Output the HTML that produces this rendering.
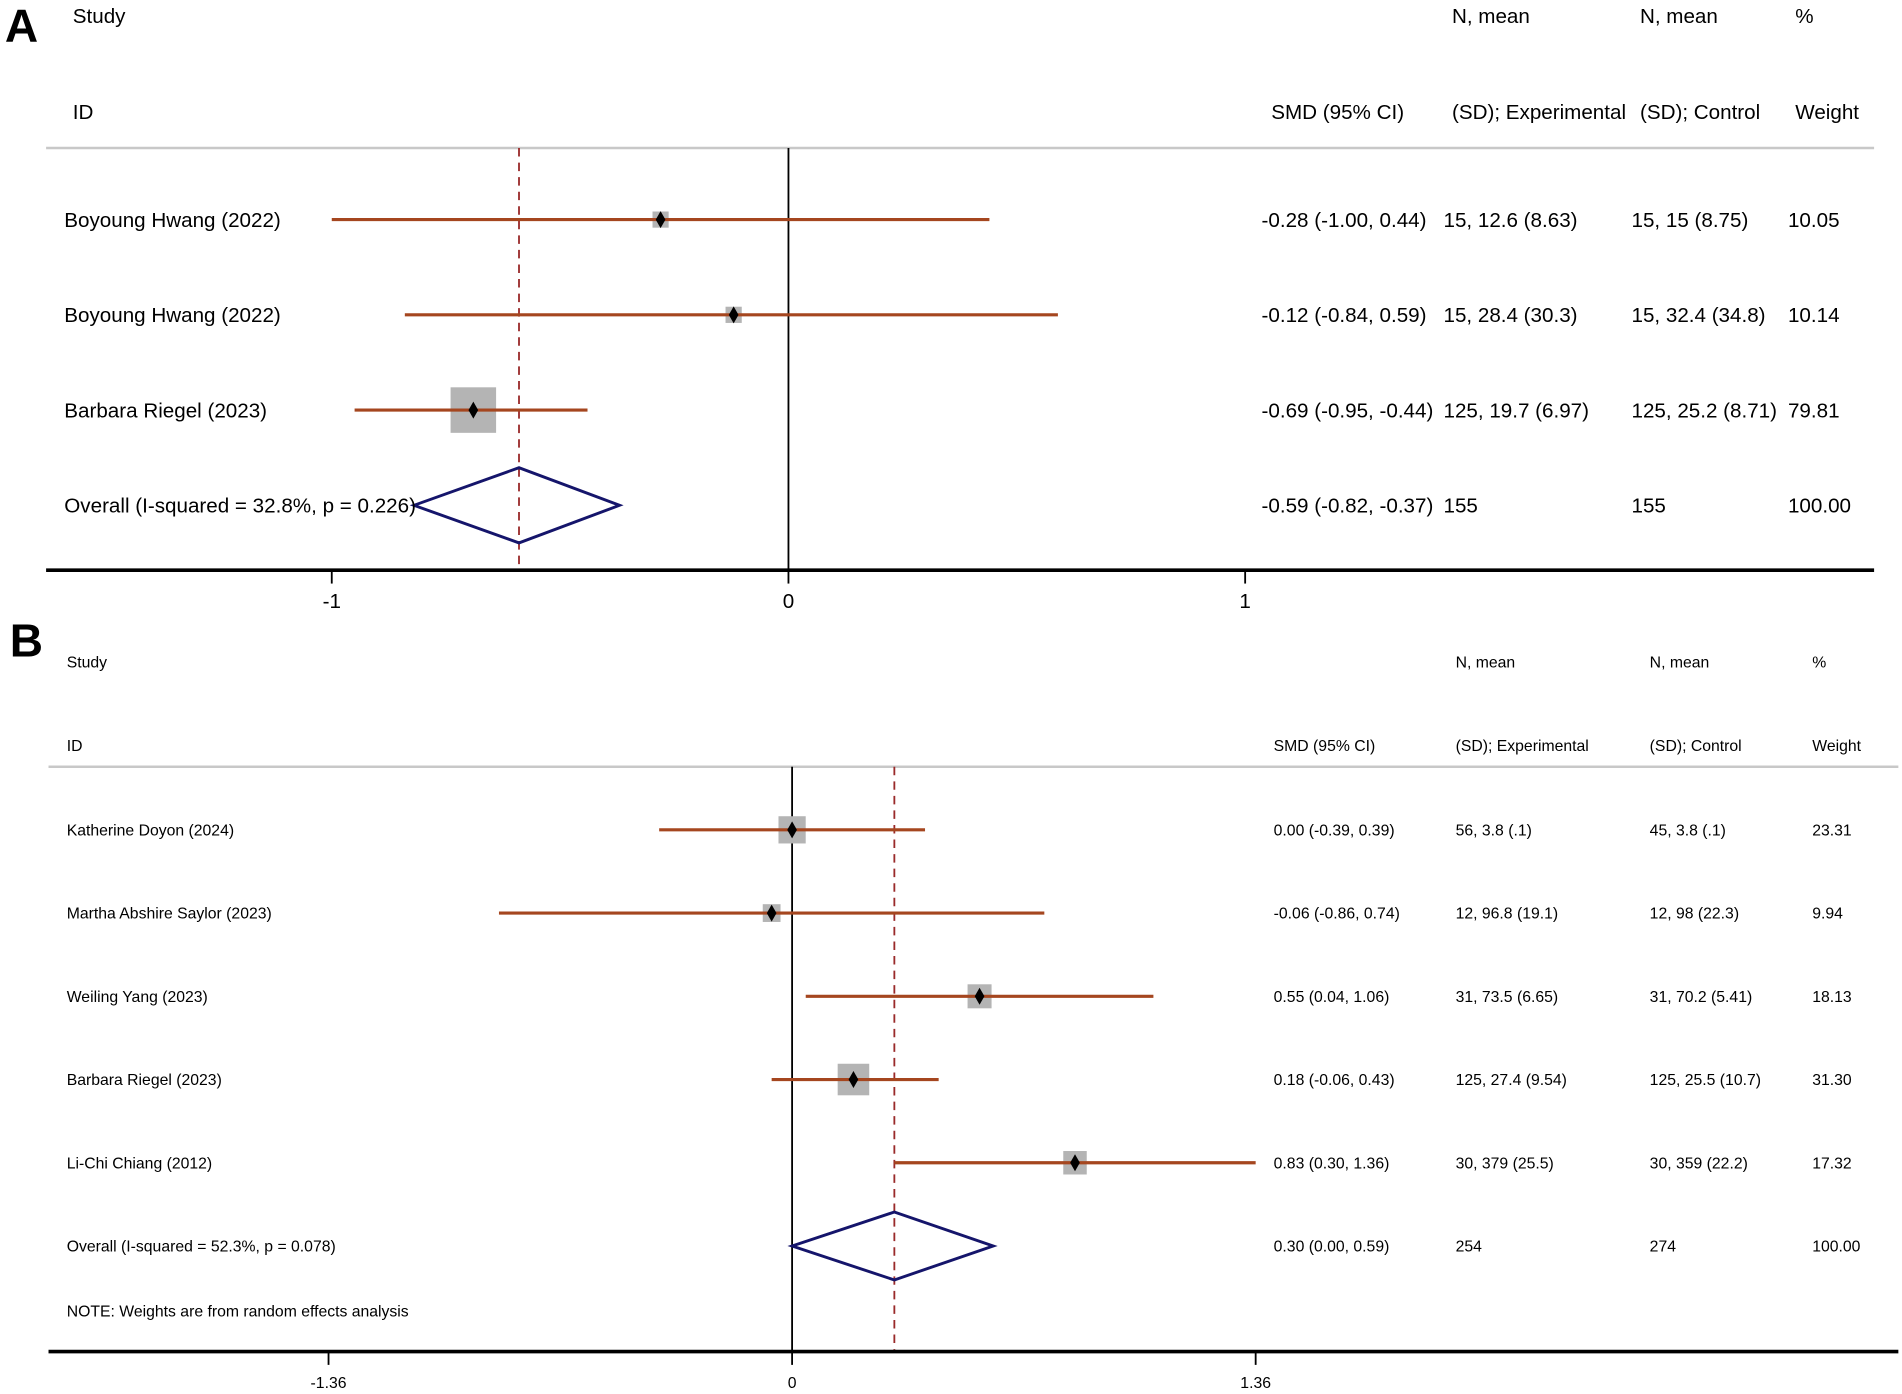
<!DOCTYPE html>
<html><head><meta charset="utf-8"><style>
html,body{margin:0;padding:0;background:#fff;}
svg{display:block;font-family:"Liberation Sans",Arial,sans-serif;}
</style></head><body>
<svg id="fig" width="1902" height="1394" viewBox="0 0 1568 1149" preserveAspectRatio="none" xmlns="http://www.w3.org/2000/svg">
<g id="pA"></g>
<g id="pB"></g>
</svg>
<script>
// Panel A data
const aStudies = ["Boyoung Hwang (2022)", "Boyoung Hwang (2022)", "Barbara Riegel (2023)"];
const aEst = [-0.28, -0.12, -0.69];
const aLo = [-1.00, -0.84, -0.95];
const aHi = [0.44, 0.59, -0.44];
const aWeight = [10.05, 10.14, 79.81];
const aExp = ["15, 12.6 (8.63)", "15, 28.4 (30.3)", "125, 19.7 (6.97)"];
const aCtl = ["15, 15 (8.75)", "15, 32.4 (34.8)", "125, 25.2 (8.71)"];
const aOverall = [-0.59, -0.82, -0.37];
const aOverallText = ["Overall  (I-squared = 32.8%, p = 0.226)", "155", "155", "100.00"];
const aTicks = [-1, 0, 1];
const aTickLabels = ["-1", "0", "1"];
// Panel B data
const bStudies = ["Katherine Doyon (2024)", "Martha Abshire Saylor (2023)", "Weiling Yang (2023)", "Barbara Riegel (2023)", "Li-Chi Chiang (2012)"];
const bEst = [0.00, -0.06, 0.55, 0.18, 0.83];
const bLo = [-0.39, -0.86, 0.04, -0.06, 0.30];
const bHi = [0.39, 0.74, 1.06, 0.43, 1.36];
const bWeight = [23.31, 9.94, 18.13, 31.30, 17.32];
const bExp = ["56, 3.8 (.1)", "12, 96.8 (19.1)", "31, 73.5 (6.65)", "125, 27.4 (9.54)", "30, 379 (25.5)"];
const bCtl = ["45, 3.8 (.1)", "12, 98 (22.3)", "31, 70.2 (5.41)", "125, 25.5 (10.7)", "30, 359 (22.2)"];
const bOverall = [0.30, 0.00, 0.59];
const bOverallText = ["Overall  (I-squared = 52.3%, p = 0.078)", "254", "274", "100.00"];
const bTicks = [-1.36, 0, 1.36];
const bTickLabels = ["-1.36", "0", "1.36"];

const NS = "http://www.w3.org/2000/svg";
function mk(parent, tag, attrs, text) {
  const e = document.createElementNS(NS, tag);
  for (const k in attrs) e.setAttribute(k, attrs[k]);
  if (text !== undefined) e.textContent = text;
  parent.appendChild(e);
  return e;
}
function fmt(v){ return v.toFixed(2); }

function panel(g, cfg, studies, est, lo, hi, wt, exp, ctl, ov, ovText, ticks, tickLabels) {
  const x = v => cfg.x0 + v * cfg.scale;
  let t;
  t = mk(g, "text", {x: cfg.letterX, y: cfg.letterY, "font-size": cfg.letterSize, "font-weight": "bold", fill: "#000"}, cfg.letter);
  
  
  const fs = cfg.fs;
  const heads = [["Study", cfg.cId, cfg.h1], ["N, mean", cfg.cExp, cfg.h1], ["N, mean", cfg.cCtl, cfg.h1], ["%", cfg.cW, cfg.h1],
    ["ID", cfg.cId, cfg.h2], ["SMD (95% CI)", cfg.cSmdH, cfg.h2], ["(SD); Experimental", cfg.cExp, cfg.h2], ["(SD); Control", cfg.cCtl, cfg.h2], ["Weight", cfg.cW, cfg.h2]];
  heads.forEach(h => {
    t = mk(g, "text", {x: h[1], y: h[2], "font-size": fs, fill: "#000"}, h[0]);
    
    
  });
  let l = mk(g, "line", {x1: cfg.left, x2: cfg.right, y1: cfg.top, y2: cfg.top, stroke: "#c8c8c8", "stroke-width": 2});
  
  
  l = mk(g, "line", {x1: x(0), x2: x(0), y1: cfg.top, y2: cfg.axisY, stroke: "#000", "stroke-width": 1.5});
  
  
  l = mk(g, "line", {x1: x(ov[0]), x2: x(ov[0]), y1: cfg.top, y2: cfg.axisY, stroke: "#9a2a2a", "stroke-width": 1.5, "stroke-dasharray": "7,5"});
  
  
  l = mk(g, "line", {x1: cfg.left, x2: cfg.right, y1: cfg.axisY, y2: cfg.axisY, stroke: "#000", "stroke-width": 3});
  
  
  ticks.forEach((v, i) => {
    l = mk(g, "line", {x1: x(v), x2: x(v), y1: cfg.axisY, y2: cfg.axisY + 11, stroke: "#000", "stroke-width": 1.5});
    
    
    t = mk(g, "text", {x: x(v), y: cfg.axisY + cfg.tickDy, "font-size": fs, "text-anchor": "middle", fill: "#000"}, tickLabels[i]);
    
    
  });
  studies.forEach((s, i) => {
    const y = cfg.row0 + i * cfg.rowStep;
    const ty = y + fs * 0.36;
    const side = cfg.boxK * Math.sqrt(wt[i]);
    const r = mk(g, "rect", {x: x(est[i]) - side / 2, y: y - side / 2, width: side, height: side, fill: "#b4b4b4"});
    
    
    l = mk(g, "line", {x1: x(lo[i]), x2: x(hi[i]), y1: y, y2: y, stroke: "#a5461f", "stroke-width": 2.6});
    
    
    const px = x(est[i]);
    const p = mk(g, "polygon", {points: `${px},${y-7} ${px+4},${y} ${px},${y+7} ${px-4},${y}`, fill: "#000"});
    
    
    const cols = [[s, cfg.cId], [`${fmt(est[i])} (${fmt(lo[i])}, ${fmt(hi[i])})`, cfg.cSmd], [exp[i], cfg.cExpV], [ctl[i], cfg.cCtlV], [wt[i].toFixed(2), cfg.cWV]];
    cols.forEach(c => {
      t = mk(g, "text", {x: c[1], y: ty, "font-size": fs, fill: "#000"}, c[0]);
      
      
    });
  });
  const oy = cfg.row0 + studies.length * cfg.rowStep;
  const d = mk(g, "polygon", {points: `${x(ov[1])},${oy} ${x(ov[0])},${oy-cfg.dh} ${x(ov[2])},${oy} ${x(ov[0])},${oy+cfg.dh}`, fill: "none", stroke: "#15156b", "stroke-width": 2.4});
  
  
  const oty = oy + fs * 0.36;
  const ocols = [[ovText[0], cfg.cId], [`${fmt(ov[0])} (${fmt(ov[1])}, ${fmt(ov[2])})`, cfg.cSmd], [ovText[1], cfg.cExpV], [ovText[2], cfg.cCtlV], [ovText[3], cfg.cWV]];
  ocols.forEach(c => {
    t = mk(g, "text", {x: c[1], y: oty, "font-size": fs, fill: "#000"}, c[0]);
    
    
  });
  if (cfg.note) {
    t = mk(g, "text", {x: cfg.cId, y: cfg.noteY, "font-size": fs, fill: "#000"}, cfg.note);
    
    
  }
}

panel(document.getElementById("pA"), {
  letter: "A", letterX: 4, letterY: 34, letterSize: 38,
  fs: 17, x0: 650, scale: 376.5, left: 38, right: 1545, top: 122, axisY: 470, tickDy: 31,
  h1: 19, h2: 98, cId: 53, cSmdH: 1048, cExp: 1197, cCtl: 1352, cW: 1480,
  cSmd: 1040, cExpV: 1190, cCtlV: 1345, cWV: 1474,
  row0: 181, rowStep: 78.5, boxK: 4.2, dh: 31
}, aStudies, aEst, aLo, aHi, aWeight, aExp, aCtl, aOverall, aOverallText, aTicks, aTickLabels);
document.querySelector('#pA text').setAttribute('x', 4);
// fix header "Study"/"ID" x for panel A
Array.from(document.querySelectorAll('#pA text')).forEach(e => { if (e.textContent === "Study" || e.textContent === "ID") e.setAttribute('x', 60); });

panel(document.getElementById("pB"), {
  letter: "B", letterX: 8, letterY: 541, letterSize: 38,
  fs: 13, x0: 653, scale: 281, left: 40, right: 1565, top: 632, axisY: 1114, tickDy: 30,
  h1: 550, h2: 619, cId: 55, cSmdH: 1050, cExp: 1200, cCtl: 1360, cW: 1494,
  cSmd: 1050, cExpV: 1200, cCtlV: 1360, cWV: 1494,
  row0: 684, rowStep: 68.6, boxK: 4.65, dh: 28,
  note: "NOTE: Weights are from random effects analysis", noteY: 1085
}, bStudies, bEst, bLo, bHi, bWeight, bExp, bCtl, bOverall, bOverallText, bTicks, bTickLabels);
</script>
</body></html>
